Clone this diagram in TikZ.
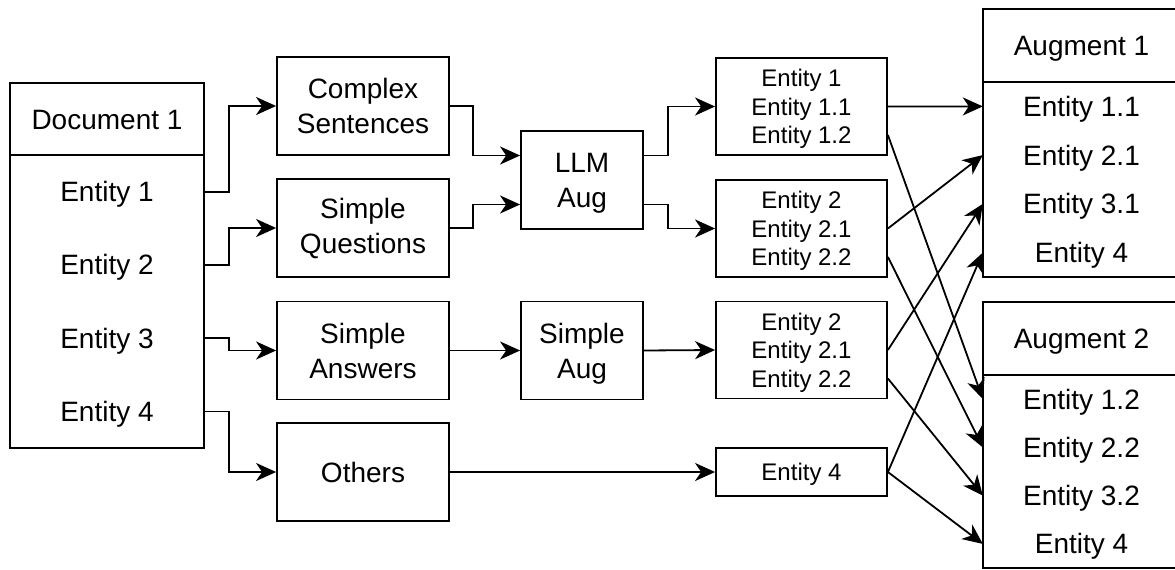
\documentclass[tikz,border=0pt]{standalone}
\usepackage{fontspec}
\setmainfont{Liberation Sans}
\usetikzlibrary{arrows.meta,positioning,calc}
\newcommand{\descspacer}{\rule{0pt}{0.93em}}

\begin{document}
\begin{tikzpicture}[
    x=1pt, y=-1pt,
    nosep/.style={inner sep=0},
    bigfont/.style={font=\fontsize{28}{35}\selectfont},
    box/.style={draw, line width=1.8pt, rectangle, nosep, align=center, bigfont,
        minimum width=172pt, minimum height=98pt},
    head/.style={box, text height=20pt, text depth=0pt},
    augbox/.style={box, minimum width=122pt},
    smallbox/.style={box, font=\fontsize{24}{28.5}\selectfont, minimum width=171pt, minimum height=97pt},
    listrow/.style={nosep, bigfont, text height=20pt, text depth=0pt},
    link/.style={draw, line width=1.8pt, -{Stealth[length=20pt, width=18pt, inset=6pt]}}
    ]
\path[fill=white] (0,0) rectangle (1175,570);
\useasboundingbox (0,0) rectangle (1175,570);

% document list
\node[head, minimum width=194pt, minimum height=72pt] (doc) at (107,119) {Document 1};
\node[box, minimum width=194pt, minimum height=293pt] (docbody) at (107,301.5) {};
\foreach \i/\y in {1/191.6, 2/264.9, 3/338.1, 4/411.4}
    \node[listrow, minimum width=194pt] (d\i) at (107,\y) {Entity \i};

% splits
\node[box] (cs) at (363,106) {Complex\\Sentences};
\node[box] (sq) at (363,228) {Simple\\Questions};
\node[box] (sa) at (363,350.5) {Simple\\Answers};
\node[head] (ot) at (363,472) {Others};

% augmenters
\node[augbox] (llm) at (582,180) {\descspacer LLM\\Aug};
\node[augbox] (simp) at (582,350.5) {\descspacer Simple\\Aug};

% entity groups
\node[smallbox] (e1) at (801.5,106.5) {\descspacer Entity 1\\Entity 1.1\\Entity 1.2};
\node[smallbox] (e2) at (801.5,228.5) {\descspacer Entity 2\\Entity 2.1\\Entity 2.2};
\node[smallbox] (e3) at (801.5,350) {\descspacer Entity 2\\Entity 2.1\\Entity 2.2};
\node[smallbox, minimum height=48pt, text height=17pt, text depth=0pt] (e4) at (801.5,472) {Entity 4};

% augment lists
\node[head, minimum width=197pt, minimum height=73pt] (aug1) at (1081.5,45.5) {Augment 1};
\node[box, minimum width=197pt, minimum height=195pt] (aug1body) at (1081.5,179.5) {};
\foreach \i/\t/\y in {1/1.1/106.4, 2/2.1/155.1, 3/3.1/203.9, 4/4/252.6}
    \node[listrow, minimum width=197pt] (a1r\i) at (1081.5,\y) {Entity \t};

\node[head, minimum width=197pt, minimum height=73pt] (aug2) at (1081.5,338.5) {Augment 2};
\node[box, minimum width=197pt, minimum height=193pt] (aug2body) at (1081.5,471.5) {};
\foreach \i/\t/\y in {1/1.2/399, 2/2.2/447.4, 3/3.2/495.6, 4/4/543.9}
    \node[listrow, minimum width=197pt] (a2r\i) at (1081.5,\y) {Entity \t};

% document to splits
\path[link] (d1.east) -- ++(25,0) |- (cs.west);
\path[link] (d2.east) -- ++(25,0) |- (sq.west);
\path[link] (d3.east) -- ++(25,0) |- (sa.west);
\path[link] (d4.east) -- ++(25,0) |- (ot.west);

% splits to augmenters
\path[link] (cs.east) -- ++(23,0) |- ([yshift=24.5pt]llm.west);
\path[link] (sq.east) -- ++(23,0) |- ([yshift=-24.5pt]llm.west);
\path[link] (sa.east) -- (simp.west);
\path[link] (ot.east) -- (e4.west);

% augmenters to entity groups
\path[link] ([yshift=24.5pt]llm.east) -- ++(24,0) |- (e1.west);
\path[link] ([yshift=-24.5pt]llm.east) -- ++(24,0) |- (e2.west);
\path[link] (simp.east) -- (e3.west);

% entity groups to augments
\path[link] (e1.east) -- (a1r1.west);
\path[link] ([yshift=-28.5pt]e1.east) -- (a2r1.west);
\path[link] (e2.east) -- (a1r2.west);
\path[link] ([yshift=-28.5pt]e2.east) -- (a2r2.west);
\path[link] (e3.east) -- (a1r3.west);
\path[link] ([yshift=-28.5pt]e3.east) -- (a2r3.west);
\path[link] (e4.east) -- (a1r4.west);
\path[link] (e4.east) -- (a2r4.west);

\end{tikzpicture}
\end{document}
